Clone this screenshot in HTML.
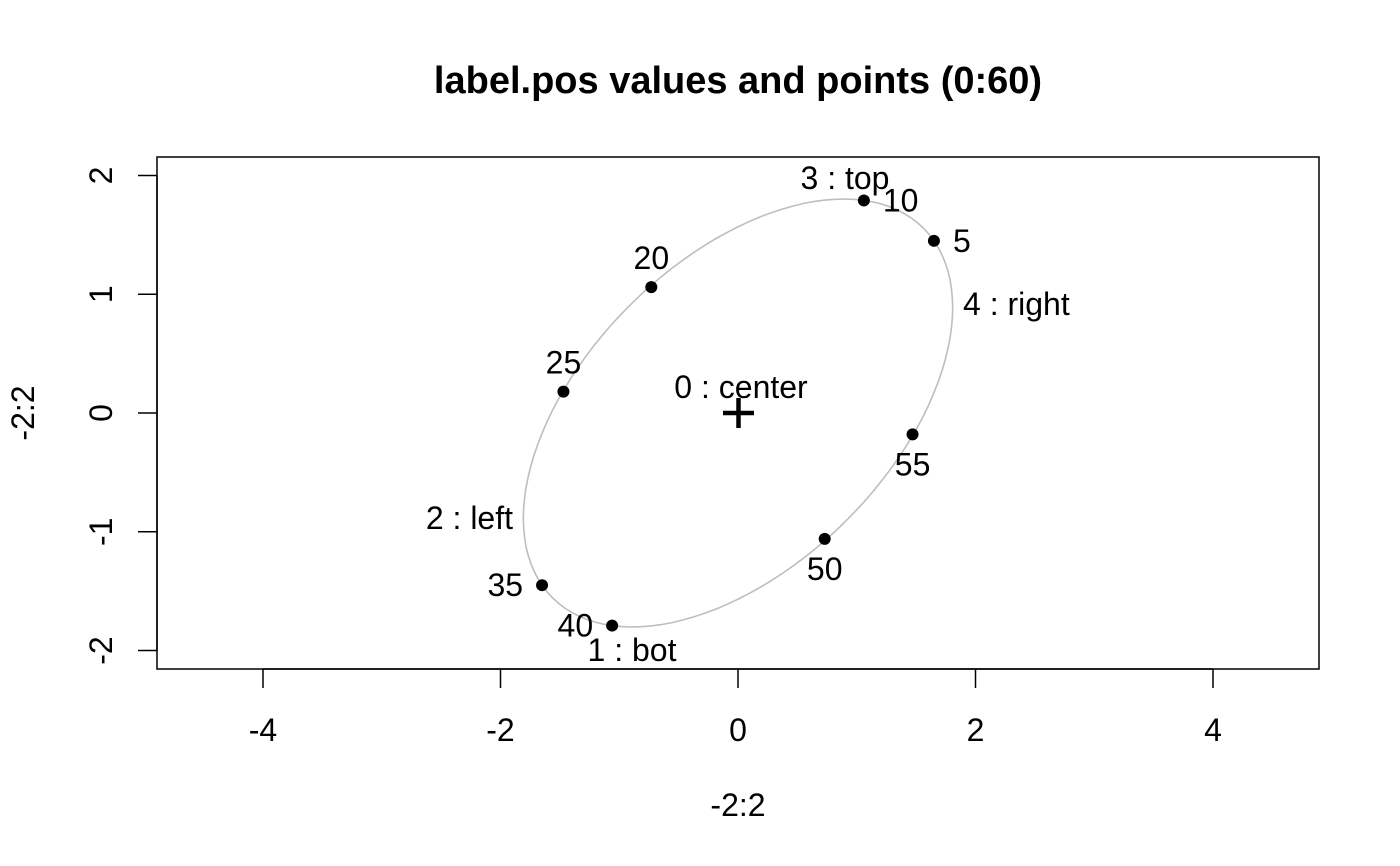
<!DOCTYPE html>
<html><head><meta charset="utf-8"><style>
body{margin:0;background:#fff}
svg{display:block;font-family:"Liberation Sans",Arial,sans-serif}
</style></head><body>
<svg id="chart" width="1400" height="866">
<text x="738" y="93" text-anchor="middle" font-size="38" font-weight="bold">label.pos values and points (0:60)</text>
<rect x="157" y="157" width="1162" height="512" fill="none" stroke="#000" stroke-width="1.5"/>
<g id="xaxis"></g>
<g id="yaxis"></g>
<text x="738" y="816" text-anchor="middle" font-size="32">-2:2</text>
<text transform="translate(34,413) rotate(-90)" text-anchor="middle" font-size="32">-2:2</text>
<g id="marks"></g>
</svg>
<script>
const xTicks=[-4,-2,0,2,4];
const yTicks=[-2,-1,0,1,2];
const ellA=1.798, ellB=0.186, ellC=0.7216, ellD=1.651;
const ptIdx=[5,10,20,25,35,40,50,55];
const ptX=[1.65,1.06,-0.73,-1.47,-1.65,-1.06,0.73,1.47];
const ptY=[1.45,1.79,1.06,0.18,-1.45,-1.79,-1.06,-0.18];
const ptPos=[4,4,3,3,2,2,1,1];
const posLabels=["0 : center","1 : bot","2 : left","3 : top","4 : right"];
const NS="http://www.w3.org/2000/svg";
const sx=v=>738+v*118.75, sy=v=>413-v*118.75;
function mk(p,tag,attrs){const e=document.createElementNS(NS,tag);for(const k in attrs)e.setAttribute(k,attrs[k]);p.appendChild(e);return e;}
const xa=document.getElementById('xaxis'), ya=document.getElementById('yaxis'), m=document.getElementById('marks');
mk(xa,'line',{x1:sx(xTicks[0]),x2:sx(xTicks[xTicks.length-1]),y1:669,y2:669,stroke:'#000','stroke-width':1.5});
xTicks.forEach(t=>{
 let tk=mk(xa,'line',{x1:sx(t),x2:sx(t),y1:669,y2:688,stroke:'#000','stroke-width':1.5});
 
 
 let tx=mk(xa,'text',{x:sx(t),y:741,'text-anchor':'middle','font-size':32});tx.textContent=t;
 
 
});
mk(ya,'line',{x1:157,x2:157,y1:sy(yTicks[0]),y2:sy(yTicks[yTicks.length-1]),stroke:'#000','stroke-width':1.5});
yTicks.forEach(t=>{
 let tk=mk(ya,'line',{x1:138,x2:157,y1:sy(t),y2:sy(t),stroke:'#000','stroke-width':1.5});
 
 
 let tx=mk(ya,'text',{transform:`translate(112,${sy(t)}) rotate(-90)`,'text-anchor':'middle','font-size':32});tx.textContent=t;
 
 
});
let d='';for(let i=0;i<=120;i++){const t=i*Math.PI/60;const x=ellA*Math.cos(t)+ellB*Math.sin(t),y=ellC*Math.cos(t)+ellD*Math.sin(t);d+=(i?'L':'M')+sx(x).toFixed(1)+','+sy(y).toFixed(1);}
let el=mk(m,'path',{d:d,fill:'none',stroke:'#bebebe','stroke-width':1.6});


ptIdx.forEach((n,i)=>{
 const cx=sx(ptX[i]),cy=sy(ptY[i]);
 let c=mk(m,'circle',{cx:cx,cy:cy,r:6,fill:'#000'});
 
 
 let p=ptPos[i],x=cx,y=cy+11,a='middle';
 if(p===1){y=cy+41;}else if(p===3){y=cy-18;}else if(p===2){x=cx-19;a='end';}else{x=cx+19;a='start';}
 let tx=mk(m,'text',{x:x,y:y,'text-anchor':a,'font-size':32});tx.textContent=n;
 
 
});
let cr=mk(m,'path',{d:`M${sx(0)-15},${sy(0)}h31M${sx(0)+0.5},${sy(0)-15}v30`,stroke:'#000','stroke-width':4.5});


posLabels.forEach((s,i)=>{
 let tx=mk(m,'text',{x:[741,632,513,845,963][i],y:[398,661,529,189,315][i],'text-anchor':['middle','middle','end','middle','start'][i],'font-size':32});
 tx.textContent=s;
 
 
});
</script>
</body></html>
